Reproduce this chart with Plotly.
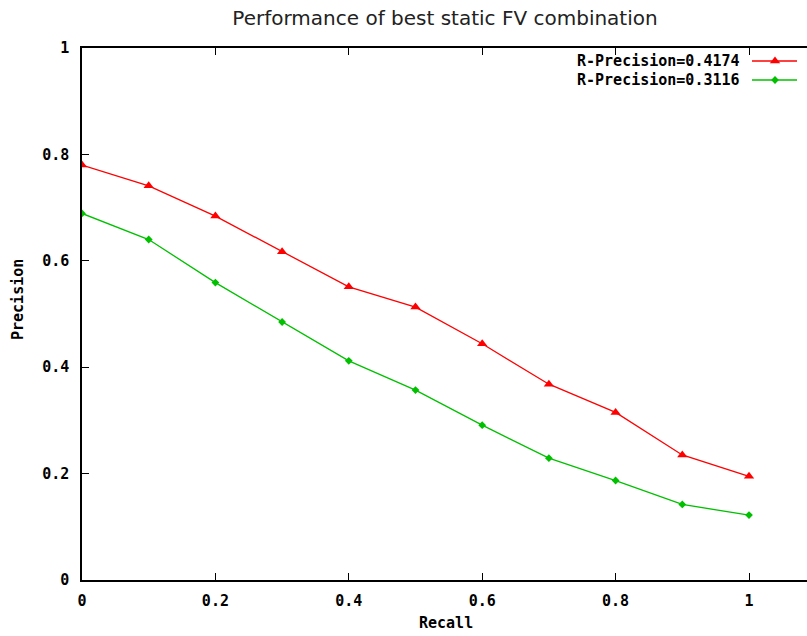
import plotly.graph_objects as go

recall = [0.0, 0.1, 0.2, 0.3, 0.4, 0.5, 0.6, 0.7, 0.8, 0.9, 1.0]
prec_a = [0.780, 0.741, 0.684, 0.617, 0.551, 0.513, 0.444, 0.368, 0.315, 0.235, 0.195]
prec_b = [0.689, 0.640, 0.559, 0.485, 0.412, 0.357, 0.291, 0.229, 0.187, 0.142, 0.122]
names = ["R-Precision=0.4174", "R-Precision=0.3116"]
colors = ["#ff0000", "#00c000"]
symbols = ["triangle-up", "diamond"]
msizes = [9, 6]
x_ticks = [0, 0.2, 0.4, 0.6, 0.8, 1]
x_ticktext = ["0", "0.2", "0.4", "0.6", "0.8", "1"]
y_ticks = [0, 0.2, 0.4, 0.6, 0.8, 1]
y_ticktext = ["0", "0.2", "0.4", "0.6", "0.8", "1"]

W, H = 807, 636
L, R, T, B = 82, 0, 48, 56
pw, ph = W - L - R, H - T - B
x_unit = 667.0  # pixels per 1.0 on x
xmax = pw / x_unit

mono = "DejaVu Sans Mono"

fig = go.Figure()
for ys, nm, c, s, ms in zip([prec_a, prec_b], names, colors, symbols, msizes):
    fig.add_trace(go.Scatter(x=recall, y=ys, mode="lines+markers", name=nm,
                             line=dict(color=c, width=1.3),
                             marker=dict(symbol=s, size=ms, color=c),
                             showlegend=False))

# manual gnuplot-style legend (text then sample)
leg_rows_px = [61, 80]
for i, (nm, c, s, ms) in enumerate(zip(names, colors, symbols, msizes)):
    yv = (H - B - leg_rows_px[i]) / ph
    fig.add_annotation(x=(742 - L) / pw, y=yv, xref="paper", yref="paper",
                       text="<b>%s</b>" % nm, showarrow=False, xanchor="right", yanchor="middle",
                       font=dict(family=mono, size=15, color="black"))
    xs = [(752 - L) / x_unit, (775 - L) / x_unit, (797 - L) / x_unit]
    fig.add_trace(go.Scatter(x=xs, y=[yv] * 3, mode="lines+markers",
                             line=dict(color=c, width=1.3),
                             marker=dict(symbol=s, size=ms, color=c),
                             showlegend=False, hoverinfo="skip",
                             selectedpoints=[1],
                             selected=dict(marker=dict(opacity=1)),
                             unselected=dict(marker=dict(opacity=0))))

fig.add_annotation(x=(446 - L) / pw, y=(H - B - 623) / ph, xref="paper", yref="paper",
                   text="<b>Recall</b>", showarrow=False, xanchor="center", yanchor="middle",
                   font=dict(family=mono, size=15, color="black"))
fig.add_annotation(x=(18 - L) / pw, y=(H - B - 300) / ph, xref="paper", yref="paper",
                   text="<b>Precision</b>", showarrow=False, textangle=-90,
                   xanchor="center", yanchor="middle",
                   font=dict(family=mono, size=15, color="black"))

fig.update_layout(
    width=W, height=H,
    margin=dict(l=L, r=R, t=T, b=B),
    paper_bgcolor="white", plot_bgcolor="white",
    title=dict(text="Performance of best static FV combination",
               x=445 / W, xanchor="center", y=1 - 18 / H, yanchor="middle",
               font=dict(family="DejaVu Sans", size=20, color="#222222")),
    xaxis=dict(range=[0, xmax], tickvals=x_ticks, ticktext=["<b>%s</b>" % t for t in x_ticktext],
               showgrid=False, zeroline=False, showline=True, linecolor="black", linewidth=1.5,
               mirror="ticks", ticks="inside", ticklen=7, tickwidth=1.2, tickcolor="black",
               ticklabelstandoff=6,
               tickfont=dict(family=mono, size=15, color="black")),
    yaxis=dict(range=[0, 1], tickvals=y_ticks, ticktext=["<b>%s</b>" % t for t in y_ticktext],
               showgrid=False, zeroline=False, showline=True, linecolor="black", linewidth=1.5,
               ticks="inside", ticklen=7, tickwidth=1.2, tickcolor="black",
               ticklabelstandoff=8,
               tickfont=dict(family=mono, size=15, color="black")),
)

fig.write_html("out.html")
